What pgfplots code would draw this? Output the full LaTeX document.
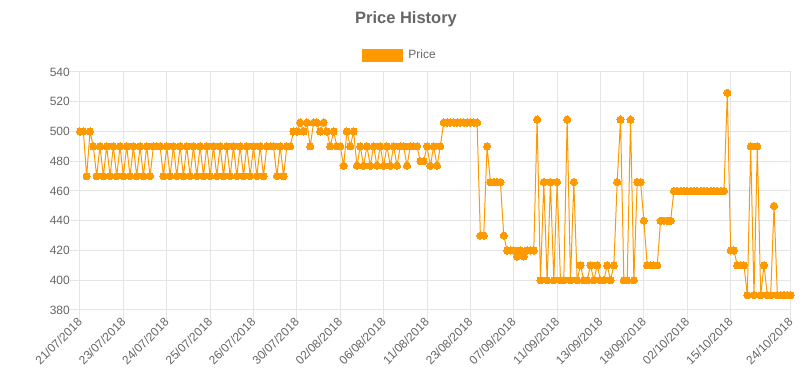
\documentclass[border=0pt]{standalone}
\usepackage{fontspec}
\setmainfont{Liberation Sans}
\usepackage{pgfplots}
\pgfplotsset{compat=1.18}
\usepackage{pgfplotstable}
\definecolor{txt}{HTML}{666666}
\definecolor{gridc}{HTML}{E5E5E5}
\definecolor{org}{HTML}{FF9900}

\pgfplotstableread{
x y
0 500
1 500
2 470
3 500
4 490
5 470
6 490
7 470
8 490
9 470
10 490
11 470
12 490
13 470
14 490
15 470
16 490
17 470
18 490
19 470
20 490
21 470
22 490
23 490
24 490
25 470
26 490
27 470
28 490
29 470
30 490
31 470
32 490
33 470
34 490
35 470
36 490
37 470
38 490
39 470
40 490
41 470
42 490
43 470
44 490
45 470
46 490
47 470
48 490
49 470
50 490
51 470
52 490
53 470
54 490
55 470
56 490
57 490
58 490
59 470
60 490
61 470
62 490
63 490
64 500
65 500
66 506
67 500
68 506
69 490
70 506
71 506
72 500
73 506
74 500
75 490
76 500
77 490
78 490
79 477
80 500
81 490
82 500
83 477
84 490
85 477
86 490
87 477
88 490
89 477
90 490
91 477
92 490
93 477
94 490
95 477
96 490
97 490
98 477
99 490
100 490
101 490
102 480
103 480
104 490
105 477
106 490
107 477
108 490
109 506
110 506
111 506
112 506
113 506
114 506
115 506
116 506
117 506
118 506
119 506
120 430
121 430
122 490
123 466
124 466
125 466
126 466
127 430
128 420
129 420
130 420
131 416
132 420
133 416
134 420
135 420
136 420
137 508
138 400
139 466
140 400
141 466
142 400
143 466
144 400
145 400
146 508
147 400
148 466
149 400
150 410
151 400
152 400
153 410
154 400
155 410
156 400
157 400
158 410
159 400
160 410
161 466
162 508
163 400
164 400
165 508
166 400
167 466
168 466
169 440
170 410
171 410
172 410
173 410
174 440
175 440
176 440
177 440
178 460
179 460
180 460
181 460
182 460
183 460
184 460
185 460
186 460
187 460
188 460
189 460
190 460
191 460
192 460
193 460
194 526
195 420
196 420
197 410
198 410
199 410
200 390
201 490
202 390
203 490
204 390
205 410
206 390
207 390
208 450
209 390
210 390
211 390
212 390
213 390
}\pricedata

\begin{document}
\begin{tikzpicture}
\path[use as bounding box] (-80pt,-69pt) rectangle (720pt,310pt);
\begin{axis}[
  at={(0pt,0pt)}, anchor=south west,
  scale only axis, width=710.7pt, height=238pt,
  xmin=0, xmax=213, ymin=380, ymax=540,
  xtick={0,13,26,39,52,65,78,91,104,117,130,143,156,169,182,195,213},
  xticklabels={21/07/2018,23/07/2018,24/07/2018,25/07/2018,26/07/2018,30/07/2018,02/08/2018,06/08/2018,11/08/2018,23/08/2018,07/09/2018,11/09/2018,13/09/2018,18/09/2018,02/10/2018,15/10/2018,24/10/2018},
  ytick={380,400,420,440,460,480,500,520,540},
  /pgf/number format/assume math mode=true,
  grid=major, grid style={draw=gridc, line width=1pt},
  axis line style={draw=gridc, line width=1pt},
  tick style={draw=gridc, line width=1pt},
  tick align=outside, major tick length=10pt,
  xtick pos=bottom, ytick pos=left,
  yticklabel style={font=\fontsize{12}{14}\selectfont, text=txt, inner sep=0pt, xshift=0pt},
  xticklabel style={font=\fontsize{12}{14}\selectfont, text=txt, rotate=45, anchor=east, inner sep=0pt, yshift=0pt},
  clip=false,
  title={Price History},
  title style={at={(0.4587,1)}, anchor=base, yshift=42pt, font=\bfseries\fontsize{16.5}{19}\selectfont, text=txt},
  legend style={at={(0.4503,1.0714)}, anchor=center, draw=none, fill=none, inner sep=0pt,
    font=\fontsize{12}{14}\selectfont, text=txt},
  legend image code/.code={\fill[org] (0pt,-6pt) rectangle (40pt,6pt); \path (43pt,0pt);},
]
\addplot[color=org, line width=1pt, mark=*, mark size=3.6pt, mark options={fill=org, draw=org, line width=0pt}] table[x=x,y=y] {\pricedata};
\addlegendentry{Price}
\end{axis}
\end{tikzpicture}
\end{document}
